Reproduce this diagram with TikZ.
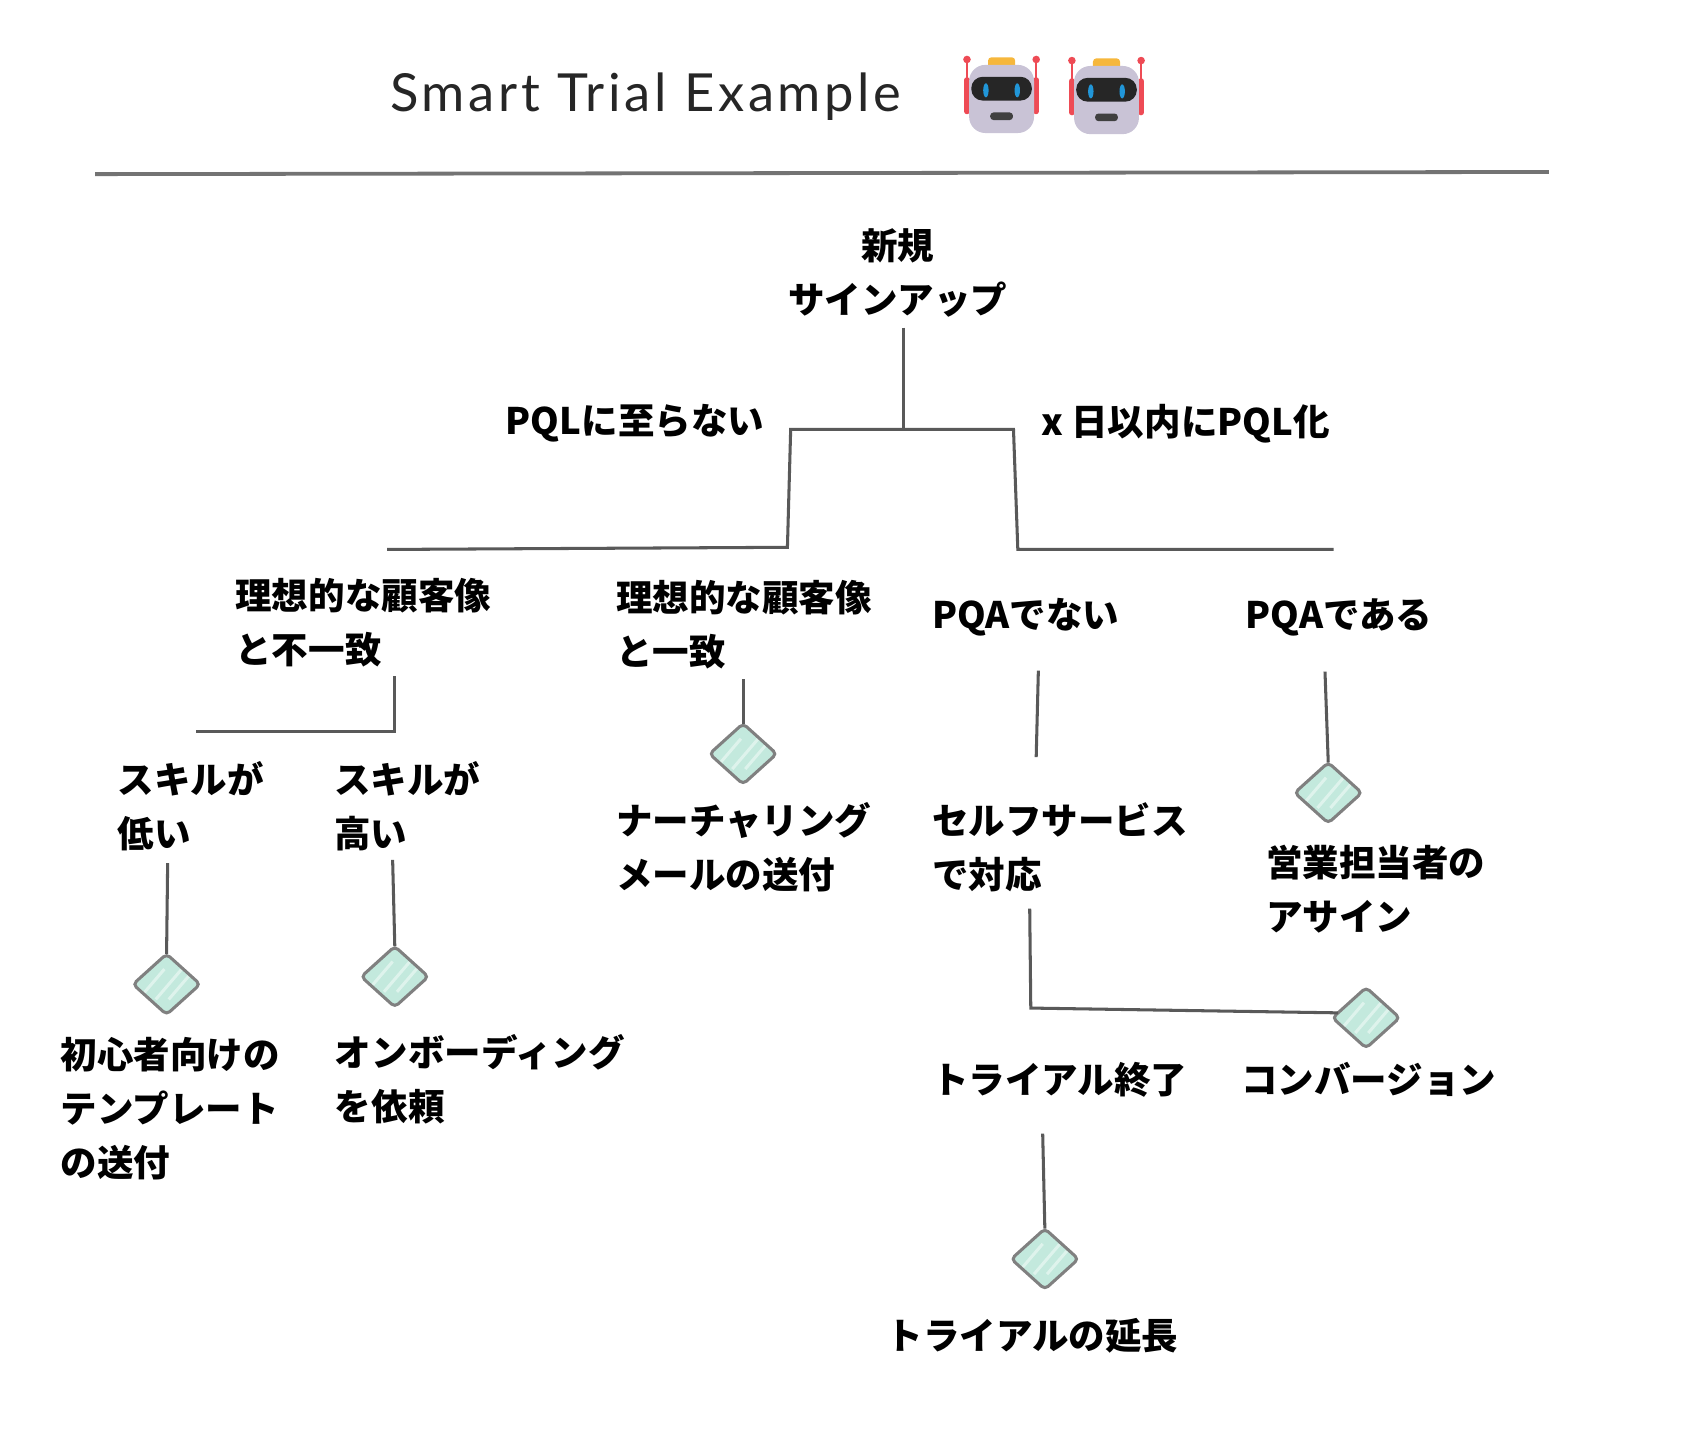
\documentclass[tikz,border=0pt]{standalone}
\usepackage{fontspec}
\setmainfont{Noto Sans CJK JP}
\newfontfamily\titlefont{Lato}[LetterSpace=7]
\usepackage{tikz}
\usetikzlibrary{shapes.geometric}
\definecolor{mint}{HTML}{C3E9DD}
\definecolor{botbody}{HTML}{C9C3D6}
\definecolor{botred}{HTML}{EE4B55}
\definecolor{botblue}{HTML}{2196D8}
\definecolor{botorange}{HTML}{F6B73C}
\tikzset{
    % Define text style
    lbl/.style={
           anchor=west,
           align=left,
           inner sep=0pt,
           font=\fontsize{9.6}{14.2}\selectfont\bfseries},
    % Define line style
    lin/.style={
           draw=black!65,
           line width=0.8pt},
    bar/.style={
           draw=black!55,
           line width=1pt},
    % Define end point style
    leaf/.style={
           shape=diamond,
           draw=black!50,
           fill=mint,
           line width=0.8pt,
           rounded corners=0.4mm,
           inner sep=0pt,
           outer sep=0pt,
           minimum width=0.62cm,
           minimum height=0.56cm,
           path picture={
             \foreach \s in {-14,2,14}{
               \draw[white!45!mint,line width=0.8pt] (path picture bounding box.center) ++(\s-12,14) -- ++(24,-28);
             }
           }},
    robot/.pic={
           \draw[botred,line width=0.6pt] (-32,-36) -- (-32,-14) (32,-36) -- (32,-14);
           \fill[botred] (-32,-33) circle (3.5) (32,-33) circle (3.5);
           \draw[botred,line width=1.5pt,line cap=round] (-32,-14) -- (-32,15) (32,-14) -- (32,15);
           \fill[botorange,rounded corners=0.3mm] (-12.5,-35) rectangle (12.5,-24);
           \fill[botbody,rounded corners=1.5mm] (-30,-28) rectangle (30,35);
           \fill[black!85,rounded corners=1.05mm] (-28,-17) rectangle (28,5);
           \fill[botblue] (-14.5,-4.5) ellipse (2.5 and 6.5) (14.5,-4.5) ellipse (2.5 and 6.5);
           \fill[black!75,rounded corners=0.3mm] (-10.5,16) rectangle (10.5,23);
    }
}
\begin{document}
\begin{tikzpicture}[x=0.01cm,y=-0.01cm]
  \useasboundingbox (0,0) rectangle (1568,1322);
  % header
  \node (title) at (597,103) [anchor=base,inner sep=0pt,text=black!85,font=\fontsize{13.8}{16}\titlefont] {Smart Trial Example};
  \pic at (926,88) {robot};
  \pic at (1023,89) {robot};
  \coordinate (ruleL) at (88,161);
  \coordinate (ruleR) at (1432,159);
  \draw [bar] (ruleL) -- (ruleR);
  % labels
  \node (sgn) at (830,252) [lbl,anchor=center,align=center] {新規\\サインアップ};
  \node (nopql) at (467,391.5) [lbl] {PQLに至らない};
  \node (pql) at (962,391.5) [lbl] {x 日以内にPQL化};
  \node (nofit) at (217,576) [lbl] {理想的な顧客像\\と不一致};
  \node (fit) at (569,578) [lbl] {理想的な顧客像\\と一致};
  \node (nopqa) at (861,570.5) [lbl] {PQAでない};
  \node (pqa) at (1151,570.5) [lbl] {PQAである};
  \node (lowsk) at (108,745) [lbl] {スキルが\\低い};
  \node (highsk) at (308.5,745.5) [lbl] {スキルが\\高い};
  \node (nurt) at (569,783) [lbl] {ナーチャリング\\メールの送付};
  \node (self) at (861,783) [lbl] {セルフサービス\\で対応};
  \node (sales) at (1170,822) [lbl] {営業担当者の\\アサイン};
  \node (tmpl) at (55.5,1025) [lbl] {初心者向けの\\テンプレート\\の送付};
  \node (onb) at (309,997.5) [lbl] {オンボーディング\\を依頼};
  \node (trend) at (861,998) [lbl] {トライアル終了};
  \node (conv) at (1147,998) [lbl] {コンバージョン};
  \node (ext) at (819,1235) [lbl] {トライアルの延長};
  % end points
  \node (d1) at (154,910) [leaf] {};
  \node (d2) at (365,903) [leaf] {};
  \node (d3) at (687,697) [leaf] {};
  \node (d4) at (1228,733) [leaf] {};
  \node (d5) at (1263,941) [leaf] {};
  \node (d6) at (966,1164) [leaf] {};
  % free ends
  \coordinate (a0) at (835,303);
  \coordinate (a1) at (835,397);
  \coordinate (a2) at (731,397);
  \coordinate (a3) at (937,397);
  \coordinate (a4) at (728,506);
  \coordinate (a5) at (358,508);
  \coordinate (a6) at (941,508);
  \coordinate (a7) at (1233,508);
  \coordinate (b0) at (365,625);
  \coordinate (b1) at (365,676);
  \coordinate (b2) at (181,676);
  \coordinate (c0) at (155,798);
  \coordinate (c1) at (363,795);
  \coordinate (c2) at (687,628);
  \coordinate (c3) at (1225,621);
  \coordinate (e0) at (960,620);
  \coordinate (e1) at (958,700);
  \coordinate (f0) at (952,840);
  \coordinate (f1) at (953,932);
  \coordinate (g0) at (964,1048);
  % connectors
  \draw [lin] (a0) -- (a1);
  \draw [lin] (a5) -- (a4) -- (a2) -- (a3) -- (a6) -- (a7);
  \draw [lin] (b0) -- (b1) -- (b2);
  \draw [lin] (c0) -- (d1.north);
  \draw [lin] (c1) -- (d2.north);
  \draw [lin] (c2) -- (d3.north);
  \draw [lin] (c3) -- (d4.north);
  \draw [lin] (e0) -- (e1);
  \draw [lin] (f0) -- (f1) -- (d5.170);
  \draw [lin] (g0) -- (d6.north);
\end{tikzpicture}
\end{document}
